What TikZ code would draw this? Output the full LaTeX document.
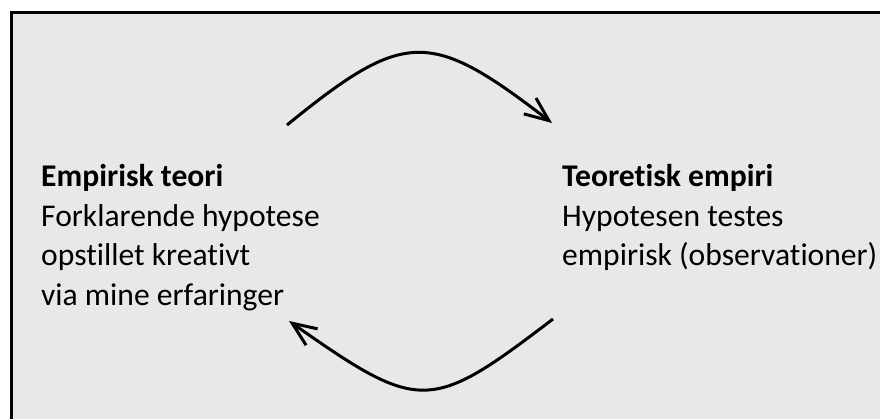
\documentclass[tikz,border=0pt]{standalone}
\usepackage{fontspec}
\setmainfont{Carlito}[Ligatures=NoCommon]
\usetikzlibrary{arrows.meta, positioning}
\definecolor{boxgray}{RGB}{232,232,232}
\tikzstyle{frame} = [draw=black, line width=3.5pt, fill=boxgray]
\tikzstyle{block} = [align=left, inner sep=0pt, anchor=base west, font=\fontsize{31.6}{39.5}\selectfont]
\tikzstyle{arrow} = [line width=3pt, -{Straight Barb[length=24pt, width=20pt]}]

\begin{document}
\begin{tikzpicture}[x=1pt, y=-1pt]

    \useasboundingbox (0,0) rectangle (880,419);
    \clip (0,0) rectangle (880,419);

    % Background
    \draw [frame] (11.5,12.5) rectangle (900,440);

    % Text blocks (anchored at the baseline of the last line)
    \node (empirisk) [block] at (41,305.2) {\textbf{Empirisk teori}\\Forklarende hypotese\\opstillet kreativt\\via mine erfaringer};
    \node (teoretisk) [block] at (562,265.7) {\textbf{Teoretisk empiri}\\Hypotesen testes\\empirisk (observationer)};

    % Arrow ends
    \coordinate (top_start) at (287,125);
    \coordinate (top_end) at (552,123);
    \coordinate (bottom_start) at (553,319);
    \coordinate (bottom_end) at (289,321);

    % ==== Arrows
    \draw [arrow] (top_start) .. controls (405,29) and (430,29) .. (top_end);
    \draw [arrow] (bottom_start) .. controls (430,413) and (420,413) .. (bottom_end);

\end{tikzpicture}
\end{document}
